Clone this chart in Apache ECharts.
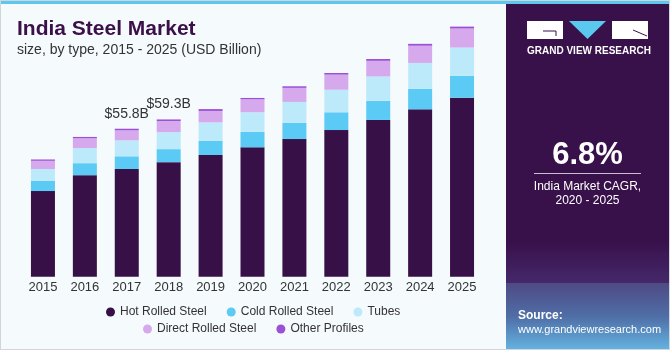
<!DOCTYPE html>
<html>
<head>
<meta charset="utf-8">
<script src="https://cdn.jsdelivr.net/npm/echarts@6/dist/echarts.min.js"></script>
<style>
  html, body { margin: 0; padding: 0; background: #f5fafd; }
  #chart { width: 670px; height: 350px; }
</style>
</head>
<body>
<div id="chart"></div>
<script>
const years = ['2015', '2016', '2017', '2018', '2019', '2020', '2021', '2022', '2023', '2024', '2025']
const hotRolled = [32.3, 38.3, 40.6, 43.2, 45.9, 48.8, 51.9, 55.3, 59.1, 63.1, 67.5]
const coldRolled = [3.8, 4.5, 4.8, 4.9, 5.4, 5.8, 6.1, 6.7, 7.2, 7.7, 8.2]
const tubes = [4.5, 5.7, 6.0, 6.4, 6.9, 7.4, 7.9, 8.5, 9.2, 9.8, 10.7]
const directRolled = [3.1, 3.7, 3.8, 4.2, 4.3, 4.9, 5.3, 5.7, 5.9, 6.5, 7.2]
const otherProfiles = [0.5, 0.5, 0.6, 0.6, 0.7, 0.5, 0.6, 0.6, 0.7, 0.7, 0.7]
const totalLabels = { '2017': '$55.8B', '2018': '$59.3B' }

const colors = {
  hot: '#371047',
  cold: '#5bcaf5',
  tubes: '#bdeafa',
  direct: '#d5a9ec',
  other: '#9c50d8'
}
const font = 'Liberation Sans, Arial, sans-serif'
const panelColor = '#38104a'

const makeSeries = (name, data, color, extra) => Object.assign({
  name,
  type: 'bar',
  stack: 'total',
  barWidth: 24,
  data,
  itemStyle: { color },
  emphasis: { disabled: true }
}, extra || {})

const series = [
  makeSeries('Hot Rolled Steel', hotRolled, colors.hot),
  makeSeries('Cold Rolled Steel', coldRolled, colors.cold),
  makeSeries('Tubes', tubes, colors.tubes),
  makeSeries('Direct Rolled Steel', directRolled, colors.direct),
  makeSeries('Other Profiles', otherProfiles, colors.other, {
    label: {
      show: true,
      position: 'top',
      distance: 8,
      color: '#333',
      fontSize: 14,
      fontFamily: font,
      formatter: p => totalLabels[p.name] || ''
    }
  })
]

const legendBase = {
  orient: 'horizontal',
  icon: 'circle',
  itemWidth: 9,
  itemHeight: 9,
  itemGap: 20,
  padding: 0,
  selectedMode: false,
  textStyle: { color: '#333', fontSize: 12, fontFamily: font }
}

const chart = echarts.init(document.getElementById('chart'))
chart.setOption({
  backgroundColor: '#f5fafd',
  animation: false,
  color: [colors.hot, colors.cold, colors.tubes, colors.direct, colors.other],
  grid: { left: 22, right: 187, top: 11.5, bottom: 73.3 },
  xAxis: {
    type: 'category',
    data: years,
    axisLine: { show: false },
    axisTick: { show: false },
    axisLabel: { color: '#333', fontSize: 13, fontFamily: font, margin: 4 }
  },
  yAxis: {
    type: 'value',
    min: 0,
    max: 100,
    show: false,
    splitLine: { show: false }
  },
  legend: [
    Object.assign({}, legendBase, {
      left: 106,
      top: 306,
      data: ['Hot Rolled Steel', 'Cold Rolled Steel', 'Tubes']
    }),
    Object.assign({}, legendBase, {
      left: 143,
      top: 323,
      data: ['Direct Rolled Steel', 'Other Profiles']
    })
  ],
  series,
  graphic: [
    // top stripe + frame
    { type: 'rect', shape: { x: 0, y: 0, width: 670, height: 4 }, style: { fill: '#5bc8f0' }, z: 10 },
    { type: 'rect', shape: { x: 0, y: 0, width: 670, height: 350 }, style: { fill: 'none', stroke: '#d2d6da', lineWidth: 2 }, z: 11 },
    // titles
    {
      type: 'text', left: 17, top: 19,
      style: { text: 'India Steel Market', fill: '#3b1048', font: 'bold 21px ' + font }
    },
    {
      type: 'text', left: 17, top: 43,
      style: { text: 'size, by type, 2015 - 2025 (USD Billion)', fill: '#333', font: '14px ' + font }
    },
    // side panel
    { type: 'rect', shape: { x: 506, y: 4, width: 164, height: 346 }, style: { fill: panelColor } },
    {
      type: 'rect', shape: { x: 506, y: 240, width: 164, height: 43 },
      style: {
        fill: new echarts.graphic.LinearGradient(0, 0, 0, 1, [
          { offset: 0, color: panelColor },
          { offset: 1, color: '#45286a' }
        ])
      }
    },
    {
      type: 'rect', shape: { x: 506, y: 283, width: 164, height: 67 },
      style: {
        fill: new echarts.graphic.LinearGradient(0, 0, 0, 1, [
          { offset: 0, color: '#4e4a85' },
          { offset: 0.5, color: '#4f6ea6' },
          { offset: 1, color: '#64b4e2' }
        ])
      }
    },
    // logo
    { type: 'rect', shape: { x: 527, y: 21, width: 36, height: 18 }, style: { fill: '#fff' } },
    { type: 'line', shape: { x1: 543, y1: 31, x2: 556, y2: 31 }, style: { stroke: panelColor, lineWidth: 1 } },
    { type: 'line', shape: { x1: 556, y1: 31, x2: 556, y2: 36 }, style: { stroke: panelColor, lineWidth: 1 } },
    { type: 'polygon', shape: { points: [[569, 21], [606, 21], [587.5, 39]] }, style: { fill: '#5bc8f0' } },
    { type: 'rect', shape: { x: 612, y: 21, width: 36, height: 18 }, style: { fill: '#fff' } },
    { type: 'line', shape: { x1: 633, y1: 30, x2: 647, y2: 36 }, style: { stroke: panelColor, lineWidth: 1 } },
    {
      type: 'text', left: 527, top: 46,
      style: { text: 'GRAND VIEW RESEARCH', fill: '#fff', font: 'bold 10px ' + font }
    },
    // CAGR
    {
      type: 'text', x: 587.5, y: 155,
      style: { text: '6.8%', fill: '#fff', font: 'bold 31px ' + font, align: 'center', verticalAlign: 'middle' }
    },
    { type: 'line', shape: { x1: 534, y1: 173.5, x2: 641, y2: 173.5 }, style: { stroke: '#c9c0d2', lineWidth: 1.2 } },
    {
      type: 'text', x: 587.5, y: 187,
      style: { text: 'India Market CAGR,', fill: '#fff', font: '12px ' + font, align: 'center', verticalAlign: 'middle' }
    },
    {
      type: 'text', x: 587.5, y: 201,
      style: { text: '2020 - 2025', fill: '#fff', font: '12px ' + font, align: 'center', verticalAlign: 'middle' }
    },
    // source
    {
      type: 'text', x: 518, y: 316,
      style: { text: 'Source:', fill: '#fff', font: 'bold 12px ' + font, verticalAlign: 'middle' }
    },
    {
      type: 'text', x: 518, y: 330,
      style: { text: 'www.grandviewresearch.com', fill: '#fff', font: '11px ' + font, verticalAlign: 'middle' }
    }
  ]
})
window.addEventListener('resize', () => chart.resize())
</script>
</body>
</html>
